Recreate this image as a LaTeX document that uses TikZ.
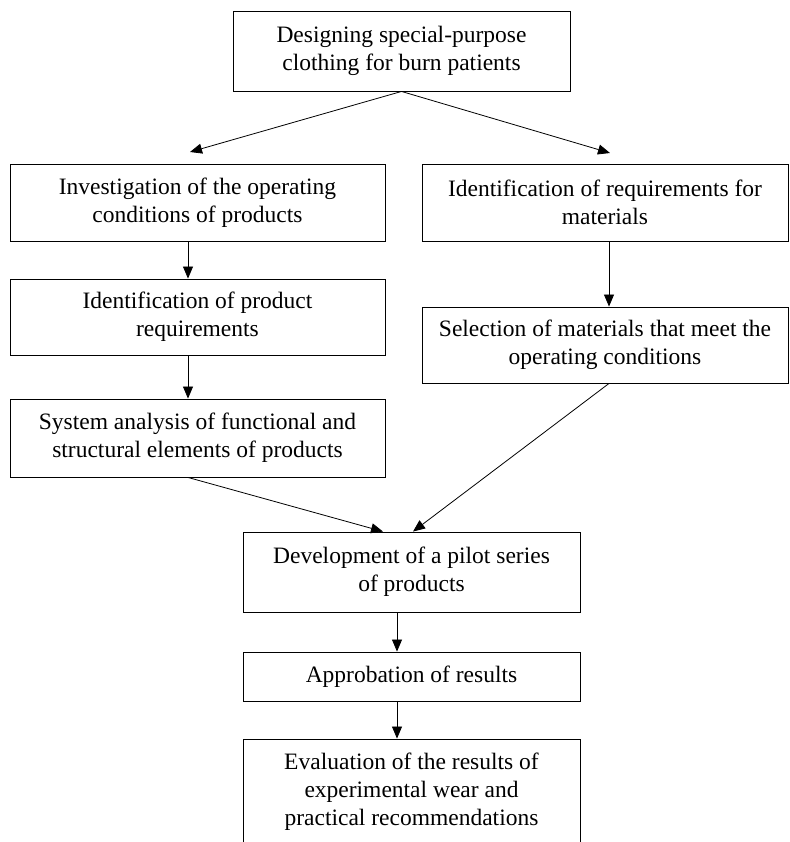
\documentclass[tikz,border=0pt]{standalone}
\usepackage{fontspec}
\setmainfont{Liberation Serif}
\usetikzlibrary{arrows.meta}
\begin{document}
\begin{tikzpicture}[x=1pt,y=-1pt,
  box/.style={draw, line width=0.9pt, inner sep=0pt, align=center,
    font=\fontsize{23.5}{28}\selectfont},
  arr/.style={line width=0.8pt, -{Triangle[length=12pt,width=10pt]}}]
\useasboundingbox (0,0) rectangle (789,842);
\clip (0,0) rectangle (789,842);
% boxes
\node[box, minimum width=337pt, minimum height=80pt] (top) at (401.5,51)
  {Designing special-purpose\\clothing for burn patients};
\node[box, minimum width=375pt, minimum height=77pt] (L1) at (197.5,202.5)
  {Investigation of the operating\\conditions of products};
\node[box, minimum width=366pt, minimum height=77pt] (R1) at (605,202.5)
  {Identification of requirements for\\materials};
\node[box, minimum width=375pt, minimum height=76pt] (L2) at (197.5,317)
  {Identification of product\\requirements};
\node[box, minimum width=366pt, minimum height=76pt] (R2) at (605,345)
  {Selection of materials that meet the\\operating conditions};
\node[box, minimum width=375pt, minimum height=78pt] (L3) at (197.5,438)
  {System analysis of functional and\\structural elements of products};
\node[box, minimum width=337pt, minimum height=80pt] (C) at (411.5,572)
  {Development of a pilot series\\of products};
\node[box, minimum width=337pt, minimum height=49pt] (A) at (411.5,676.5)
  {Approbation of results};
\node[box, minimum width=337pt, minimum height=106pt] (E) at (411.5,792)
  {Evaluation of the results of\\experimental wear and\\practical recommendations};
% helper coordinates
\coordinate (lc) at (188,0);
\coordinate (rc) at (609,0);
\coordinate (cc) at (397,0);
\coordinate (c1) at (383,0);
\coordinate (c2) at (413,0);
\coordinate (tL) at (190,152);
\coordinate (tR) at (610,153);
% connectors
\draw[arr] (top.south) -- (tL);
\draw[arr] (top.south) -- (tR);
\draw[arr] (L1.south -| lc) -- (L2.north -| lc);
\draw[arr] (L2.south -| lc) -- (L3.north -| lc);
\draw[arr] (R1.south -| rc) -- (R2.north -| rc);
\draw[arr] (L3.south -| lc) -- (C.north -| c1);
\draw[arr] (R2.south -| rc) -- (C.north -| c2);
\draw[arr] (C.south -| cc) -- (A.north -| cc);
\draw[arr] (A.south -| cc) -- (E.north -| cc);
\end{tikzpicture}
\end{document}
